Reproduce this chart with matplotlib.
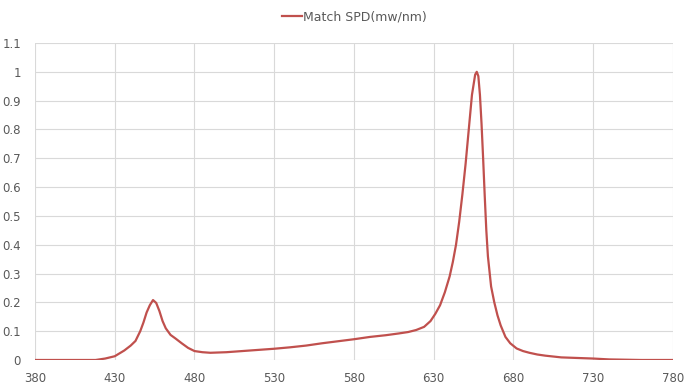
import matplotlib
matplotlib.use("Agg")
import matplotlib.pyplot as plt

# spectrum
wavelength = [380, 400, 418, 424, 430, 436, 440, 443, 446, 448, 450, 452, 454, 456,
              458, 460, 462, 465, 468, 472, 476, 480, 485, 490, 500, 510, 520, 530,
              540, 550, 560, 570, 580, 590, 600, 608, 614, 619, 624, 628, 631, 634,
              637, 640, 642, 644, 646, 648, 650, 652, 654, 656, 657, 658, 659, 660,
              661, 662, 663, 664, 666, 668, 670, 672, 675, 678, 682, 686, 690, 695,
              700, 710, 720, 730, 740, 750, 760, 770, 780]
spd = [0, 0, 0.0, 0.005, 0.013, 0.033, 0.05, 0.066, 0.1, 0.13, 0.165, 0.19, 0.208, 0.198,
       0.17, 0.135, 0.11, 0.087, 0.075, 0.058, 0.042, 0.031, 0.027, 0.025, 0.027, 0.031,
       0.035, 0.039, 0.044, 0.05, 0.058, 0.065, 0.072, 0.08, 0.086, 0.092, 0.097, 0.104,
       0.115, 0.135, 0.16, 0.19, 0.235, 0.29, 0.34, 0.4, 0.48, 0.575, 0.68, 0.8, 0.92,
       0.99, 1.0, 0.985, 0.92, 0.82, 0.7, 0.57, 0.45, 0.36, 0.255, 0.2, 0.155, 0.12,
       0.08, 0.058, 0.04, 0.031, 0.025, 0.019, 0.015, 0.009, 0.007, 0.005, 0.002, 0.001,
       0, 0, 0]
x_ticks = [380, 430, 480, 530, 580, 630, 680, 730, 780]
y_ticks = [0, 0.1, 0.2, 0.3, 0.4, 0.5, 0.6, 0.7, 0.8, 0.9, 1, 1.1]
y_labels = ["0", "0.1", "0.2", "0.3", "0.4", "0.5", "0.6", "0.7", "0.8", "0.9", "1", "1.1"]

fig = plt.figure(figsize=(6.93, 3.88), dpi=100)
ax = fig.add_axes([0.0505, 0.0722, 0.9205, 0.817])

ax.plot(wavelength, spd, color="#C0504D", lw=1.6, label="Match SPD(mw/nm)", zorder=3)

ax.set_xlim(380, 780)
ax.set_ylim(0, 1.1)
ax.set_xticks(x_ticks)
ax.set_yticks(y_ticks)
ax.set_yticklabels(y_labels)
ax.grid(True, color="#D9D9D9", lw=0.8)
ax.set_axisbelow(True)
for s in ax.spines.values():
    s.set_visible(False)
ax.tick_params(length=0, colors="#595959", labelsize=8.5)
ax.tick_params(axis="x", pad=9)
ax.tick_params(axis="y", pad=10)

# legend centred over the plot area, not the figure
fig.legend(loc="center", bbox_to_anchor=(0.511, 0.956), frameon=False,
           fontsize=9, handlelength=1.6, handletextpad=0.1, labelcolor="#595959")

fig.savefig("out.png", dpi=100)
